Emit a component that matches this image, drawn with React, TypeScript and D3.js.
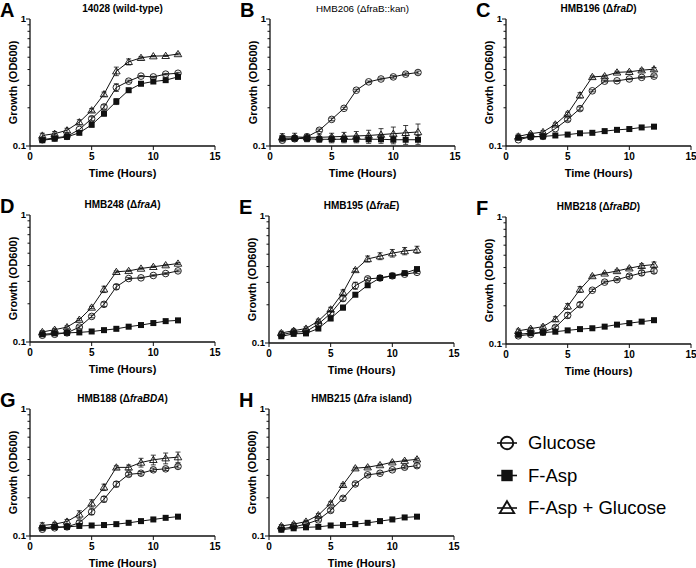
import React from "react";
import * as d3 from "d3";

const hours = [1, 2, 3, 4, 5, 6, 7, 8, 9, 10, 11, 12];
const xTicks = [0, 5, 10, 15];
const yTicks = [0.1, 0.2, 0.3, 0.4, 0.5, 0.6, 0.7, 0.8, 0.9, 1];

// A: 14028 (wild-type)
const aGlu = [0.112, 0.116, 0.119, 0.135, 0.164, 0.203, 0.289, 0.324, 0.355, 0.35, 0.368, 0.374];
const aAsp = [0.111, 0.114, 0.118, 0.127, 0.147, 0.18, 0.224, 0.275, 0.309, 0.322, 0.33, 0.35];
const aMix = [0.121, 0.125, 0.133, 0.154, 0.191, 0.256, 0.388, 0.46, 0.495, 0.51, 0.513, 0.53];
const aErrGlu = [0, 0, 0, 0, 0.006, 0.008, 0.02, 0.006, 0.004, 0.004, 0.005, 0.006];
const aErrAsp = [0, 0, 0, 0.003, 0.006, 0.008, 0.012, 0.008, 0.006, 0.005, 0.005, 0.008];
const aErrMix = [0.005, 0.005, 0.005, 0.007, 0.006, 0.01, 0.03, 0.025, 0.01, 0.006, 0.006, 0.008];

// B: HMB206
const bGlu = [0.111, 0.114, 0.118, 0.133, 0.162, 0.198, 0.275, 0.32, 0.337, 0.35, 0.368, 0.379];
const bAsp = [0.115, 0.115, 0.114, 0.113, 0.113, 0.113, 0.113, 0.113, 0.113, 0.112, 0.112, 0.112];
const bMix = [0.118, 0.118, 0.117, 0.117, 0.118, 0.119, 0.12, 0.121, 0.123, 0.125, 0.127, 0.129];
const bErrGlu = [0.003, 0.003, 0.003, 0.003, 0.004, 0.004, 0.005, 0.005, 0.006, 0.008, 0.008, 0.01];
const bErrAsp = [0.005, 0.006, 0.006, 0.006, 0.007, 0.007, 0.007, 0.008, 0.008, 0.008, 0.009, 0.009];
const bErrMix = [0.007, 0.008, 0.007, 0.007, 0.008, 0.009, 0.01, 0.012, 0.014, 0.016, 0.018, 0.02];

// C: HMB196
const cGlu = [0.112, 0.118, 0.119, 0.137, 0.162, 0.197, 0.272, 0.324, 0.326, 0.337, 0.347, 0.355];
const cAsp = [0.116, 0.118, 0.119, 0.121, 0.123, 0.126, 0.127, 0.131, 0.134, 0.136, 0.14, 0.142];
const cMix = [0.119, 0.125, 0.129, 0.148, 0.18, 0.251, 0.35, 0.355, 0.38, 0.384, 0.395, 0.403];
const cErrGlu = [0, 0, 0, 0, 0.005, 0.006, 0.005, 0.005, 0.004, 0.004, 0.006, 0.008];
const cErrAsp = [0, 0, 0, 0, 0, 0, 0, 0, 0, 0, 0, 0];
const cErrMix = [0.005, 0.003, 0.003, 0.004, 0.005, 0.012, 0.006, 0.006, 0.008, 0.006, 0.01, 0.012];

// D: HMB248
const dGlu = [0.113, 0.115, 0.118, 0.131, 0.159, 0.198, 0.272, 0.316, 0.32, 0.334, 0.346, 0.363];
const dAsp = [0.115, 0.117, 0.118, 0.119, 0.121, 0.124, 0.127, 0.132, 0.136, 0.141, 0.146, 0.148];
const dMix = [0.12, 0.125, 0.131, 0.15, 0.187, 0.26, 0.357, 0.363, 0.379, 0.391, 0.403, 0.415];
const dErrGlu = [0, 0, 0, 0.003, 0.004, 0.008, 0.012, 0.005, 0.004, 0.004, 0.005, 0.006];
const dErrAsp = [0, 0, 0, 0, 0, 0, 0, 0, 0, 0, 0, 0];
const dErrMix = [0.003, 0.003, 0.003, 0.003, 0.004, 0.015, 0.006, 0.005, 0.005, 0.005, 0.006, 0.007];

// E: HMB195
const eGlu = [0.116, 0.122, 0.123, 0.141, 0.171, 0.224, 0.283, 0.32, 0.325, 0.338, 0.348, 0.36];
const eAsp = [0.113, 0.118, 0.119, 0.13, 0.156, 0.19, 0.24, 0.285, 0.325, 0.338, 0.355, 0.382];
const eMix = [0.12, 0.125, 0.13, 0.149, 0.184, 0.25, 0.376, 0.459, 0.483, 0.51, 0.53, 0.543];
const eErrGlu = [0.006, 0.004, 0.004, 0.005, 0.006, 0.01, 0.018, 0.01, 0.006, 0.005, 0.006, 0.008];
const eErrAsp = [0.004, 0.004, 0.004, 0.004, 0.006, 0.008, 0.008, 0.008, 0.006, 0.006, 0.006, 0.008];
const eErrMix = [0.004, 0.004, 0.004, 0.005, 0.007, 0.012, 0.01, 0.025, 0.03, 0.035, 0.035, 0.035];

// F: HMB218
const fGlu = [0.116, 0.119, 0.124, 0.135, 0.168, 0.204, 0.265, 0.307, 0.321, 0.342, 0.363, 0.376];
const fAsp = [0.119, 0.122, 0.123, 0.125, 0.128, 0.131, 0.133, 0.137, 0.142, 0.146, 0.15, 0.154];
const fMix = [0.127, 0.132, 0.137, 0.157, 0.198, 0.269, 0.343, 0.36, 0.376, 0.395, 0.413, 0.422];
const fErrGlu = [0.003, 0.003, 0.003, 0.004, 0.008, 0.008, 0.006, 0.006, 0.006, 0.012, 0.015, 0.015];
const fErrAsp = [0, 0, 0, 0, 0, 0, 0, 0, 0, 0, 0, 0];
const fErrMix = [0.004, 0.003, 0.004, 0.007, 0.01, 0.014, 0.006, 0.006, 0.008, 0.008, 0.015, 0.02];

// G: HMB188
const gGlu = [0.113, 0.116, 0.118, 0.127, 0.155, 0.195, 0.256, 0.306, 0.312, 0.332, 0.338, 0.353];
const gAsp = [0.116, 0.118, 0.118, 0.12, 0.121, 0.122, 0.124, 0.127, 0.131, 0.135, 0.139, 0.142];
const gMix = [0.121, 0.124, 0.13, 0.148, 0.181, 0.242, 0.347, 0.347, 0.379, 0.398, 0.41, 0.418];
const gErrGlu = [0.003, 0.003, 0.003, 0.005, 0.008, 0.01, 0.012, 0.01, 0.01, 0.01, 0.01, 0.01];
const gErrAsp = [0, 0, 0, 0, 0, 0, 0, 0, 0, 0, 0, 0];
const gErrMix = [0.006, 0.004, 0.005, 0.01, 0.012, 0.014, 0.01, 0.015, 0.03, 0.035, 0.04, 0.04];

// H: HMB215
const hGlu = [0.114, 0.118, 0.124, 0.134, 0.159, 0.198, 0.257, 0.303, 0.312, 0.332, 0.348, 0.358];
const hAsp = [0.112, 0.115, 0.117, 0.118, 0.121, 0.122, 0.124, 0.127, 0.131, 0.135, 0.14, 0.142];
const hMix = [0.12, 0.124, 0.13, 0.146, 0.181, 0.253, 0.342, 0.348, 0.362, 0.381, 0.392, 0.402];
const hErrGlu = [0, 0, 0, 0.003, 0.005, 0.006, 0.008, 0.006, 0.006, 0.006, 0.01, 0.012];
const hErrAsp = [0, 0, 0, 0, 0, 0, 0, 0, 0, 0, 0, 0];
const hErrMix = [0.003, 0.003, 0.003, 0.004, 0.005, 0.006, 0.006, 0.006, 0.006, 0.006, 0.006, 0.008];

const legendLabels = ["Glucose", "F-Asp", "F-Asp + Glucose"];

const W = 185;
const H = 127;
const FONT = "Liberation Sans, Arial, sans-serif";

type PanelDef = {
  letter: string;
  x: number;
  y: number;
  title: React.ReactNode;
  titleSize: number;
  glu: number[];
  asp: number[];
  mix: number[];
  eGlu: number[];
  eAsp: number[];
  eMix: number[];
};

const it = (s: string) => <tspan fontStyle="italic">{s}</tspan>;

const panels: PanelDef[] = [
  { letter: "A", x: 30, y: 19, title: "14028 (wild-type)", titleSize: 10, glu: aGlu, asp: aAsp, mix: aMix, eGlu: aErrGlu, eAsp: aErrAsp, eMix: aErrMix },
  { letter: "B", x: 270, y: 19, title: <tspan fontWeight="normal">HMB206 (ΔfraB::kan)</tspan>, titleSize: 9.8, glu: bGlu, asp: bAsp, mix: bMix, eGlu: bErrGlu, eAsp: bErrAsp, eMix: bErrMix },
  { letter: "C", x: 506, y: 19, title: <>HMB196 (Δ{it("fraD")})</>, titleSize: 10, glu: cGlu, asp: cAsp, mix: cMix, eGlu: cErrGlu, eAsp: cErrAsp, eMix: cErrMix },
  { letter: "D", x: 30, y: 215, title: <>HMB248 (Δ{it("fraA")})</>, titleSize: 10, glu: dGlu, asp: dAsp, mix: dMix, eGlu: dErrGlu, eAsp: dErrAsp, eMix: dErrMix },
  { letter: "E", x: 269, y: 216, title: <>HMB195 (Δ{it("fraE")})</>, titleSize: 10, glu: eGlu, asp: eAsp, mix: eMix, eGlu: eErrGlu, eAsp: eErrAsp, eMix: eErrMix },
  { letter: "F", x: 506, y: 217, title: <>HMB218 (Δ{it("fraBD")})</>, titleSize: 10, glu: fGlu, asp: fAsp, mix: fMix, eGlu: fErrGlu, eAsp: fErrAsp, eMix: fErrMix },
  { letter: "G", x: 30, y: 409, title: <>HMB188 (Δ{it("fraBDA")})</>, titleSize: 10, glu: gGlu, asp: gAsp, mix: gMix, eGlu: gErrGlu, eAsp: gErrAsp, eMix: gErrMix },
  { letter: "H", x: 269, y: 409, title: <>HMB215 (Δ{it("fra")} island)</>, titleSize: 10, glu: hGlu, asp: hAsp, mix: hMix, eGlu: hErrGlu, eAsp: hErrAsp, eMix: hErrMix },
];

const Marker = ({ kind, cx, cy, sw = 0.9 }: { kind: string; cx: number; cy: number; sw?: number }) => {
  if (kind === "circle")
    return <circle cx={cx} cy={cy} r={3.3} fill="none" stroke="#111" strokeWidth={sw} />;
  if (kind === "square")
    return <rect x={cx - 3} y={cy - 3} width={6} height={6} fill="#111" />;
  const s = 3.6;
  return (
    <path
      d={`M${cx},${cy - s}L${cx + s * 1.05},${cy + s * 0.75}L${cx - s * 1.05},${cy + s * 0.75}Z`}
      fill="none"
      stroke="#111"
      strokeWidth={sw}
    />
  );
};

const Series = ({ values, errs, kind, x, y }: any) => {
  const line = d3
    .line<number>()
    .x((_, i) => x(hours[i]))
    .y((v) => y(v));
  return (
    <g>
      {values.map((v: number, i: number) =>
        errs[i] > 0 ? (
          <g key={"e" + i} stroke="#111" strokeWidth={0.8}>
            <line x1={x(hours[i])} x2={x(hours[i])} y1={y(Math.max(0.1, v - errs[i]))} y2={y(v + errs[i])} />
            <line x1={x(hours[i]) - 2.5} x2={x(hours[i]) + 2.5} y1={y(v + errs[i])} y2={y(v + errs[i])} />
            <line x1={x(hours[i]) - 2.5} x2={x(hours[i]) + 2.5} y1={y(Math.max(0.1, v - errs[i]))} y2={y(Math.max(0.1, v - errs[i]))} />
          </g>
        ) : null
      )}
      <path d={line(values) || ""} fill="none" stroke="#111" strokeWidth={1} />
      {values.map((v: number, i: number) => (
        <Marker key={i} kind={kind} cx={x(hours[i])} cy={y(v)} />
      ))}
    </g>
  );
};

const Panel = ({ p }: { p: PanelDef }) => {
  const x = d3.scaleLinear().domain([0, 15]).range([0, W]);
  const y = d3.scaleLog().domain([0.1, 1]).range([H, 0]);
  return (
    <g transform={`translate(${p.x},${p.y})`} fontFamily={FONT}>
      <text x={-30} y={-2} fontSize={20} fontWeight="bold">{p.letter}</text>
      <text x={W / 2} y={-7} fontSize={p.titleSize} fontWeight="bold" textAnchor="middle">{p.title}</text>
      {/* y axis */}
      <line x1={0} x2={0} y1={0} y2={H} stroke="#111" strokeWidth={1.3} />
      {yTicks.map((t) => {
        const major = t === 0.1 || t === 1;
        return <line key={t} x1={major ? -4 : -2.5} x2={0} y1={y(t)} y2={y(t)} stroke="#111" strokeWidth={1} />;
      })}
      <text x={-4} y={y(1) + 3} fontSize={9.5} fontWeight="bold" textAnchor="end">1</text>
      <text x={-4} y={y(0.1) + 3} fontSize={9.5} fontWeight="bold" textAnchor="end">0.1</text>
      <text transform={`translate(-13,${H / 2}) rotate(-90)`} fontSize={11} fontWeight="bold" textAnchor="middle">
        Growth (OD600)
      </text>
      {/* x axis */}
      <line x1={0} x2={W} y1={H} y2={H} stroke="#111" strokeWidth={1.3} />
      {xTicks.map((t) => (
        <g key={t}>
          <line x1={x(t)} x2={x(t)} y1={H} y2={H + 4} stroke="#111" strokeWidth={1} />
          <text x={x(t)} y={H + 14} fontSize={10} fontWeight="bold" textAnchor="middle">{t}</text>
        </g>
      ))}
      <text x={W / 2} y={H + 31} fontSize={11} fontWeight="bold" textAnchor="middle">Time (Hours)</text>
      <Series values={p.asp} errs={p.eAsp} kind="square" x={x} y={y} />
      <Series values={p.glu} errs={p.eGlu} kind="circle" x={x} y={y} />
      <Series values={p.mix} errs={p.eMix} kind="triangle" x={x} y={y} />
    </g>
  );
};

const Legend = () => {
  const kinds = ["circle", "square", "triangle"];
  return (
    <g transform="translate(497,443)" fontFamily={FONT}>
      {legendLabels.map((l, i) => (
        <g key={l} transform={`translate(0,${i * 32.5})`}>
          <line x1={0} x2={20} y1={0} y2={0} stroke="#111" strokeWidth={1.6} />
          <g transform="translate(10,0) scale(1.9)">
            <Marker kind={kinds[i]} cx={0} cy={0} sw={1} />
          </g>
          <text x={31} y={6} fontSize={18.5}>{l}</text>
        </g>
      ))}
    </g>
  );
};

export default function App() {
  return (
    <svg width={696} height={568} style={{ position: "absolute", left: 0, top: 0, background: "white" }}>
      <rect width={696} height={568} fill="white" />
      {panels.map((p) => (
        <Panel key={p.letter} p={p} />
      ))}
      <Legend />
    </svg>
  );
}
